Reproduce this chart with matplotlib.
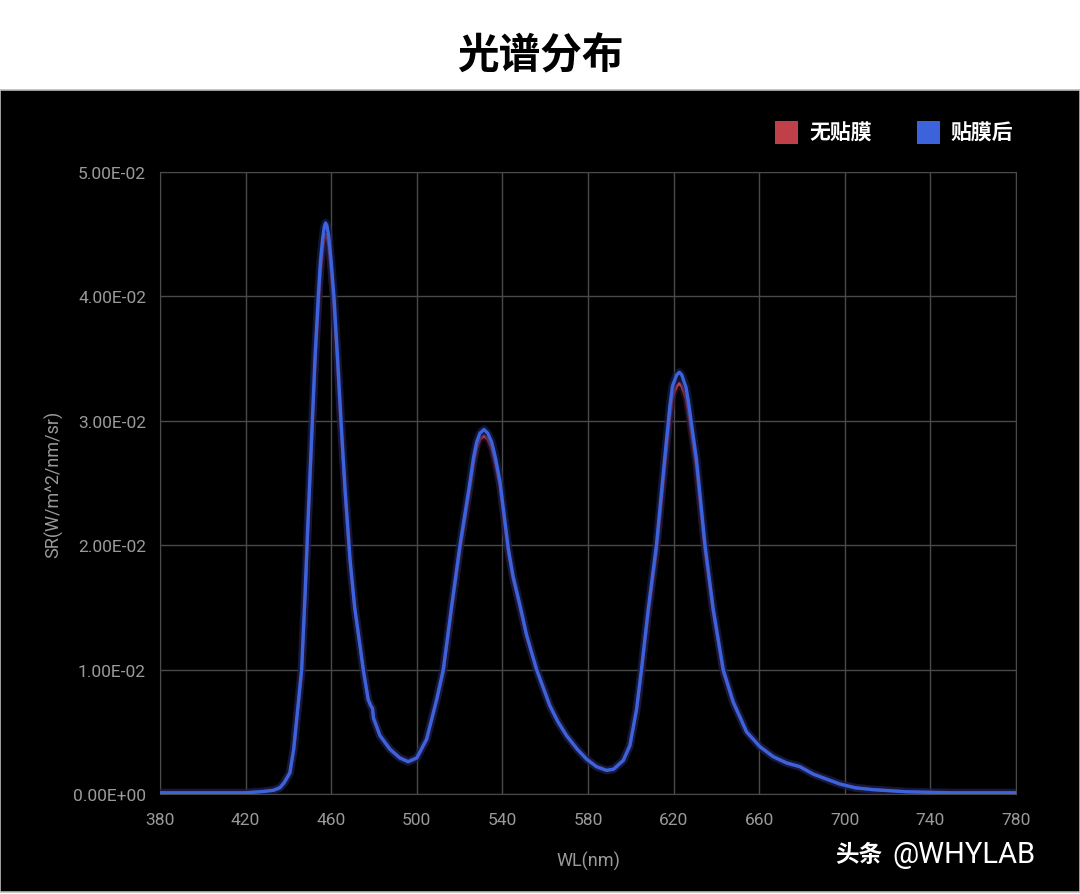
import matplotlib
matplotlib.use("Agg")
import matplotlib.pyplot as plt
import matplotlib.patheffects as pe
from matplotlib.patches import Rectangle

plt.rcParams['font.family'] = ['Roboto', 'DejaVu Sans']

# wavelength grid (nm) and spectral radiance
wl = [380, 400, 420, 428, 433, 436, 438, 440.7, 442.5, 443.9, 446.2, 447.8, 449,
      451.2, 452.5, 454, 455, 456, 456.8, 457.4, 458, 458.8, 459.8, 461.3, 463,
      464.6, 466.5, 468.8, 471, 473.5, 475, 477.3, 478.5, 479.3, 479.8, 482.8,
      487.5, 492.1, 496, 500, 504.6, 509.3, 512.4, 516.3, 520.2, 524.9, 526.5,
      528, 529.5, 531.4, 533.2, 535, 536.8, 538.9, 542.8, 545, 548.2, 551.3, 556,
      562.2, 566, 570, 575, 579.4, 584, 588.7, 592, 596.5, 599.6, 602.7, 605,
      608.2, 612, 616, 618.3, 619.5, 621.5, 622.7, 623.8, 625.8, 626.9, 630.7,
      634.7, 638.5, 643.2, 647.9, 654.1, 660.4, 666.6, 672.8, 679, 685.3, 691.5,
      697.8, 705, 713.3, 729, 750, 780]

after = [0.0001, 0.0001, 0.0001, 0.0002, 0.0003, 0.0005, 0.0009, 0.0017, 0.0036,
         0.0060, 0.0100, 0.0160, 0.0212, 0.0300, 0.0352, 0.0400, 0.0428, 0.0446,
         0.0456, 0.0459, 0.0457, 0.0449, 0.0432, 0.0400, 0.0350, 0.0300, 0.0245,
         0.0189, 0.0150, 0.0119, 0.0100, 0.0076, 0.0071, 0.0069, 0.0061, 0.0047,
         0.0036, 0.0029, 0.0026, 0.0029, 0.0044, 0.0076, 0.0100, 0.0151, 0.0200,
         0.0251, 0.0270, 0.0283, 0.0290, 0.0293, 0.0290, 0.0283, 0.0270, 0.0251,
         0.0197, 0.0175, 0.0152, 0.0128, 0.0100, 0.0071, 0.0058, 0.0047, 0.0036,
         0.0028, 0.0022, 0.0019, 0.0020, 0.0027, 0.0039, 0.0068, 0.0100, 0.0149,
         0.0200, 0.0272, 0.0312, 0.0328, 0.0337, 0.0339, 0.0337, 0.0327, 0.0316,
         0.0269, 0.0200, 0.0149, 0.0100, 0.0074, 0.0050, 0.0038, 0.0030, 0.0025,
         0.0022, 0.0016, 0.0012, 0.0008, 0.0005, 0.00035, 0.00018, 0.0001, 0.0001]

before = [0.0001, 0.0001, 0.0001, 0.0002, 0.0003, 0.0005, 0.0009, 0.0017, 0.0036,
          0.0060, 0.0098, 0.0156, 0.0207, 0.0294, 0.0345, 0.0391, 0.0419, 0.0437,
          0.0447, 0.0450, 0.0448, 0.0441, 0.0424, 0.0392, 0.0343, 0.0295, 0.0241,
          0.0187, 0.0149, 0.0119, 0.0100, 0.0076, 0.0071, 0.0069, 0.0061, 0.0047,
          0.0036, 0.0029, 0.0026, 0.0029, 0.0044, 0.0075, 0.0098, 0.0148, 0.0196,
          0.0246, 0.0265, 0.0278, 0.0285, 0.0288, 0.0285, 0.0278, 0.0265, 0.0247,
          0.0194, 0.0173, 0.0150, 0.0127, 0.0100, 0.0071, 0.0058, 0.0047, 0.0036,
          0.0028, 0.0022, 0.0019, 0.0020, 0.0027, 0.0039, 0.0067, 0.0098, 0.0145,
          0.0194, 0.0264, 0.0303, 0.0319, 0.0328, 0.0330, 0.0328, 0.0318, 0.0307,
          0.0262, 0.0195, 0.0146, 0.0098, 0.0073, 0.0050, 0.0038, 0.0030, 0.0025,
          0.0022, 0.0016, 0.0012, 0.0008, 0.0005, 0.00035, 0.00018, 0.0001, 0.0001]

xticks = list(range(380, 781, 40))
yticks = [0, 0.01, 0.02, 0.03, 0.04, 0.05]
ylabels = ['0.00E+00', '1.00E-02', '2.00E-02', '3.00E-02', '4.00E-02', '5.00E-02']

red = '#c0404a'
blue = '#3d63dc'
grid = '#4a4a4a'
tick_col = '#9a9a9a'

fig = plt.figure(figsize=(10.8, 8.95), dpi=100)
fig.patch.set_facecolor('white')
fig.patches.append(Rectangle((0, 0.002), 1, 0.8965, transform=fig.transFigure,
                             facecolor='black', edgecolor='#bbbbbb', lw=1.2,
                             zorder=-10))

ax = fig.add_axes([0.1481, 0.1117, 0.7926, 0.695])
ax.set_facecolor('black')

glow_r = [pe.Stroke(linewidth=5, foreground='#3a1018', alpha=0.6), pe.Normal()]
glow_b = [pe.Stroke(linewidth=6, foreground='#16225a', alpha=0.6), pe.Normal()]
ax.plot(wl, before, color=red, lw=2.0, path_effects=glow_r, zorder=3,
        solid_joinstyle='round')
ax.plot(wl, after, color=blue, lw=2.4, path_effects=glow_b, zorder=4,
        solid_joinstyle='round')

ax.set_xlim(380, 780)
ax.set_ylim(0, 0.05)
ax.set_xticks(xticks)
ax.set_yticks(yticks)
ax.set_yticklabels(ylabels)
ax.grid(True, color=grid, lw=1)
for s in ax.spines.values():
    s.set_color(grid)
ax.tick_params(colors=tick_col, length=0, labelsize=12.5, pad=10)
ax.tick_params(axis='x', pad=13)
ax.set_xlabel('WL(nm)', color=tick_col, fontsize=13)
ax.set_ylabel('SR(W/m^2/nm/sr)', color=tick_col, fontsize=13)
ax.yaxis.set_label_coords(-0.113, 0.5)
ax.xaxis.set_label_coords(0.5, -0.092)

fig.text(0.5, 0.937, '光谱分布', ha='center', va='center', fontsize=30,
         fontweight='heavy', family=['Noto Sans CJK SC'], color='black')

# legend
for x0, col, lab in [(0.718, red, '无贴膜'), (0.849, blue, '贴膜后')]:
    fig.patches.append(Rectangle((x0, 0.838), 0.021, 0.026, transform=fig.transFigure,
                                 facecolor=col, edgecolor='none'))
    fig.text(x0 + 0.031, 0.851, lab, ha='left', va='center', fontsize=15,
             fontweight='heavy', family=['Noto Sans CJK SC'], color='white')

fig.text(0.773, 0.045, '头条', ha='left', va='center', fontsize=17,
         fontweight='bold', family=['Noto Sans CJK SC'], color='white')
fig.text(0.826, 0.045, '@WHYLAB', ha='left', va='center', fontsize=21,
         family=['Roboto'], color='white')

fig.savefig('out.png', dpi=100, facecolor=fig.get_facecolor())
